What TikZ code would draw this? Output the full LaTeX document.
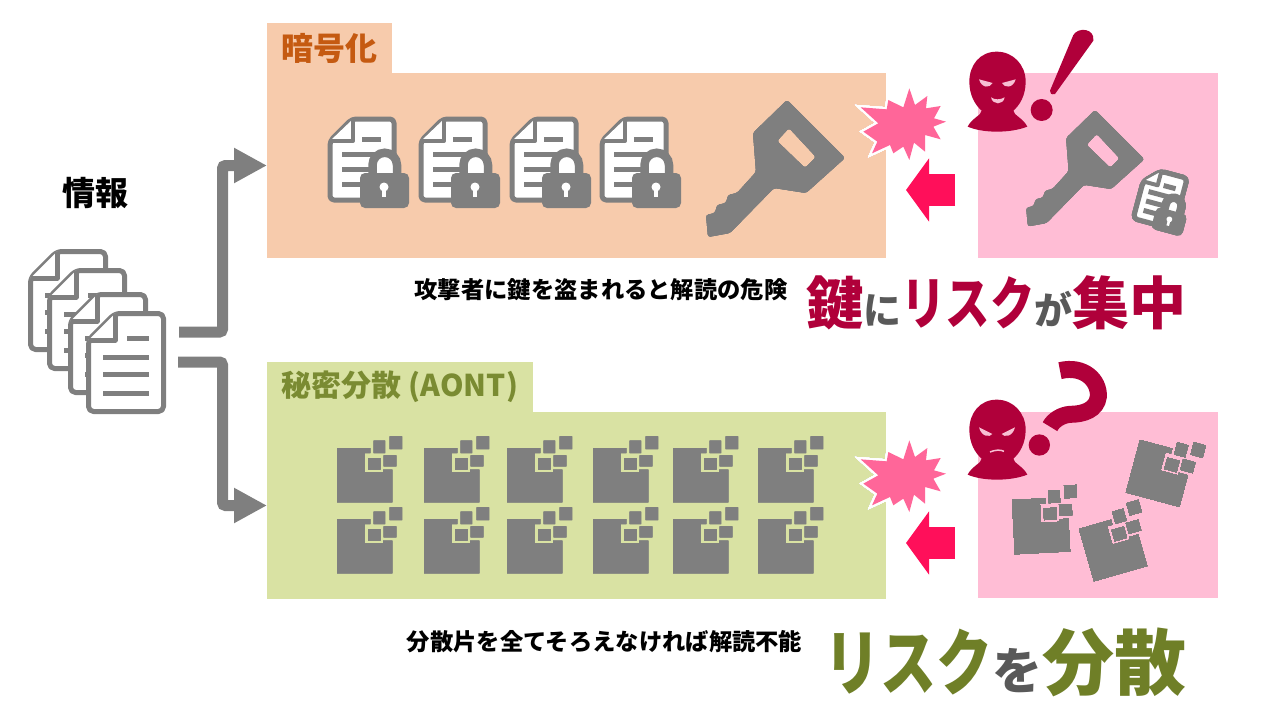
\documentclass[tikz,border=0pt]{standalone}
\usepackage{fontspec}
\usepackage{graphicx}
\usepackage{xcolor}
\usetikzlibrary{arrows.meta}
\setmainfont{Noto Sans CJK JP}
\definecolor{icongray}{HTML}{7F7F7F}
\definecolor{textgray}{HTML}{595959}
\definecolor{cryptofill}{HTML}{F7CBAC}
\definecolor{sharefill}{HTML}{D9E2A3}
\definecolor{attackfill}{HTML}{FFBDD5}
\definecolor{cryptotext}{HTML}{C55A11}
\definecolor{sharetext}{HTML}{7A8B32}
\definecolor{riskred}{HTML}{B0003A}
\definecolor{riskolive}{HTML}{6F7F27}
\definecolor{burstpink}{HTML}{FF6699}
\definecolor{arrowpink}{HTML}{FF0F5A}
\definecolor{eyepink}{HTML}{F7BFD3}
\newcommand{\jpsize}[1]{\fontsize{#1}{#1}\selectfont}
\newcommand{\red}[1]{\textcolor{riskred}{#1}}
\newcommand{\olive}[1]{\textcolor{riskolive}{#1}}
\newcommand{\slate}[1]{\textcolor{textgray}{#1}}
\newcommand{\narrow}[2]{\scalebox{#1}[1]{#2}}
\tikzset{
    areabox/.style={fill=#1, anchor=north west, inner sep=0pt, outer sep=0pt},
    tabtext/.style={text=#1},
    notetext/.style={font=\bfseries\jpsize{23.3}, text=black, inner sep=0pt},
    flowarrow/.style={draw=icongray, line width=11pt, rounded corners=3pt, -{Triangle[length=33pt, width=33pt]}},
    hitarrow/.style={draw=arrowpink, line width=32pt, -{Triangle[length=23pt, width=62pt]}},
    sheet/.style={draw=icongray, fill=white, line width=5pt, line join=round},
    rule/.style={draw=icongray, line width=5pt},
}
\newcommand{\docicon}[1]{
    \begin{scope}[shift={(#1)}]
        \draw[sheet, rounded corners=5pt] (2.5, 29) -- (29, 2.5) -- (77.5, 2.5) -- (77.5, 100.5) -- (2.5, 100.5) -- cycle;
        \draw[sheet] (2.5, 29) -- (29, 29) -- (29, 2.5);
        \draw[rule] (41, 27) -- (63, 27) (17, 46) -- (63, 46) (17, 63) -- (63, 63) (17, 82) -- (63, 82);
    \end{scope}
}
\newcommand{\lockdoc}[1]{
    \begin{scope}[#1]
        \draw[sheet, rounded corners=4pt] (2, 24) -- (24, 2) -- (66, 2) -- (66, 83) -- (2, 83) -- cycle;
        \draw[sheet, line width=4pt] (2, 24) -- (25, 24) -- (25, 2);
        \draw[rule] (34, 22) -- (53, 22) (14, 37) -- (53, 37) (14, 52) -- (53, 52) (14, 67) -- (53, 67);
        \fill[white] (44, 38) rectangle (70, 60);
        \draw[icongray, line width=8.5pt] (44.5, 62) -- (44.5, 48) arc[start angle=180, end angle=360, radius=12.25] -- (69, 62);
        \fill[icongray, rounded corners=5pt] (32, 56) rectangle (81, 91);
        \fill[white] (56, 70) circle (4.5);
        \fill[white] (54, 71) rectangle (58, 80);
    \end{scope}
}
\newcommand{\keyicon}[1]{
    \begin{scope}[#1]
        \fill[icongray, even odd rule, rounded corners=2.5pt]
        (787, 100) -- (845, 158) -- (806, 193) -- (774, 188) -- (730, 233) -- (708, 237) -- (706, 215) -- (715, 213) -- (717, 205) -- (726, 203) -- (728, 195) -- (737, 193) -- (756, 172) -- (753, 133) -- cycle
        (789, 128) -- (816, 157) -- (805, 168) -- (777, 141) -- cycle;
    \end{scope}
}
\newcommand{\tileicon}[1]{
    \begin{scope}[#1, scale=1/3]
        \fill[icongray] (0, 0) -- (100, 0) -- (100, 15) -- (83, 15) -- (83, 73) -- (138, 73) -- (138, 65) -- (166, 65) -- (166, 163) -- (0, 163) -- cycle;
        \fill[icongray] (110, -22) rectangle (144, 15) (158, -35) rectangle (195, 3) (93, 30) rectangle (131, 65) (140, 22) rectangle (178, 55);
    \end{scope}
}
\newcommand{\burstshape}{
    (208, 205) -- (225, 255) -- (262, 228) -- (258, 265) -- (302, 258) -- (282, 295) -- (318, 305) -- (280, 320) -- (302, 358) -- (255, 345) -- (255, 395) -- (222, 368) -- (208, 420) -- (190, 380) -- (160, 400) -- (150, 375) -- (96, 400) -- (112, 365) -- (70, 335) -- (115, 310) -- (62, 262) -- (140, 268) -- (145, 240) -- (190, 262) -- cycle
}
\newcommand{\bursticon}[1]{
    \begin{scope}[shift={(#1)}, scale=1/3]
        \draw[white, line width=4pt] \burstshape;
        \fill[burstpink] \burstshape;
    \end{scope}
}
\newcommand{\thiefhead}{
    \fill[riskred] (470, 95) .. controls (420, 95) and (388, 135) .. (388, 185) .. controls (388, 225) and (405, 255) .. (425, 272) .. controls (425, 285) and (395, 295) .. (383, 320) .. controls (430, 340) and (510, 340) .. (562, 320) .. controls (550, 295) and (520, 285) .. (520, 272) .. controls (540, 255) and (557, 225) .. (557, 185) .. controls (557, 135) and (520, 95) .. (470, 95) -- cycle;
}
\begin{document}
\begin{tikzpicture}[x=1pt, y=-1pt]
    \useasboundingbox (0, 0) rectangle (1280, 712);
    \node[areabox=cryptofill, minimum width=619pt, minimum height=185pt] (cryptobox) at (267, 73) {};
    \node[areabox=cryptofill, minimum width=125pt, minimum height=50pt, tabtext=cryptotext, font=\bfseries\jpsize{32}] (cryptotab) at (267, 23) {暗号化};
    \node[areabox=sharefill, minimum width=619pt, minimum height=187pt] (sharebox) at (267, 412) {};
    \node[areabox=sharefill, minimum width=266pt, minimum height=50pt, tabtext=sharetext, font=\bfseries\jpsize{30}] (sharetab) at (267, 362) {秘密分散 (AONT)};
    \node[areabox=attackfill, minimum width=240pt, minimum height=185pt] (attackbox) at (978, 73) {};
    \node[areabox=attackfill, minimum width=240pt, minimum height=186pt] (spreadbox) at (978, 412) {};
    \node[font=\bfseries\jpsize{33}, inner sep=0pt] (info) at (95, 193) {情報};
    \docicon{28, 249}
    \docicon{47, 268}
    \docicon{68, 292}
    \docicon{86, 311}
    \coordinate (docup) at (179, 332);
    \coordinate (upbend) at (222.5, 332);
    \coordinate (docdown) at (178, 362);
    \coordinate (downbend) at (222.5, 362);
    \draw[flowarrow] (docup) -- (upbend) |- (cryptobox.west);
    \draw[flowarrow] (docdown) -- (downbend) |- (sharebox.west);
    \foreach \x in {328, 419, 510, 600}
        \lockdoc{shift={(\x, 117)}}
    \keyicon{}
    \keyicon{shift={(1095, 110)}, scale=0.85, shift={(-787, -100)}}
    \lockdoc{shift={(1146, 166)}, rotate=-15, scale=0.65}
    \foreach \x in {337, 424, 507, 593, 673, 758}
        \foreach \y in {448, 519}
            \tileicon{shift={(\x, \y)}}
    \tileicon{shift={(1012, 500)}, rotate=3}
    \tileicon{shift={(1079, 529)}, rotate=16}
    \tileicon{shift={(1140, 440)}, rotate=-15}
    \bursticon{840, 20}
    \bursticon{840, 372}
    \coordinate (hitstart) at (955, 190);
    \coordinate (hitend) at (906, 190);
    \coordinate (sharestart) at (955, 543);
    \coordinate (shareend) at (906, 543);
    \draw[hitarrow] (hitstart) -- (hitend);
    \draw[hitarrow] (sharestart) -- (shareend);
    \begin{scope}[shift={(840, 20)}, scale=1/3]
        \thiefhead
        \fill[eyepink] (417, 178) -- (458, 189) .. controls (450, 205) and (425, 205) .. (417, 178) -- cycle;
        \fill[eyepink] (527, 178) -- (486, 189) .. controls (494, 205) and (519, 205) .. (527, 178) -- cycle;
        \fill[eyepink] (453, 232) .. controls (465, 240) and (480, 240) .. (494, 232) .. controls (490, 256) and (458, 256) .. (453, 232) -- cycle;
        \fill[riskred] (700, 45) .. controls (715, 20) and (765, 25) .. (760, 62) -- (645, 222) .. controls (635, 225) and (628, 220) .. (630, 212) -- cycle;
        \fill[riskred] (605, 270) circle (33);
    \end{scope}
    \begin{scope}[shift={(840, 368)}, scale=1/3]
        \thiefhead
        \fill[eyepink] (417, 178) -- (457, 198) .. controls (450, 208) and (425, 208) .. (417, 178) -- cycle;
        \fill[eyepink] (525, 178) -- (485, 198) .. controls (492, 208) and (517, 208) .. (525, 178) -- cycle;
        \draw[eyepink, line width=1.5pt] (450, 252) .. controls (465, 246) and (480, 244) .. (492, 250);
    \end{scope}
    \begin{scope}[shift={(840, 355)}, scale=1/3]
        \draw[riskred, line width=17pt] (660, 47) .. controls (730, 30) and (778, 75) .. (775, 125) .. controls (770, 165) and (730, 178) .. (690, 178) .. controls (665, 180) and (640, 195) .. (630, 215);
        \fill[riskred] (598, 270) circle (32);
    \end{scope}
    \node[notetext] (cryptonote) at (601, 290) {攻撃者に鍵を盗まれると解読の危険};
    \node[notetext] (sharenote) at (604.5, 642) {分散片を全てそろえなければ解読不能};
    \node[font=\bfseries\jpsize{57}, inner sep=0pt, anchor=east] (cryptorisk) at (1187, 303) {\red{鍵}\slate{\jpsize{38}に}\red{\narrow{0.78}{リスク}}\slate{\jpsize{38}が}\red{集中}};
    \node[font=\bfseries\jpsize{72}, inner sep=0pt, anchor=east] (sharerisk) at (1187, 662) {\olive{\narrow{0.78}{リスク}}\slate{\jpsize{50}を}\olive{分散}};
\end{tikzpicture}
\end{document}
